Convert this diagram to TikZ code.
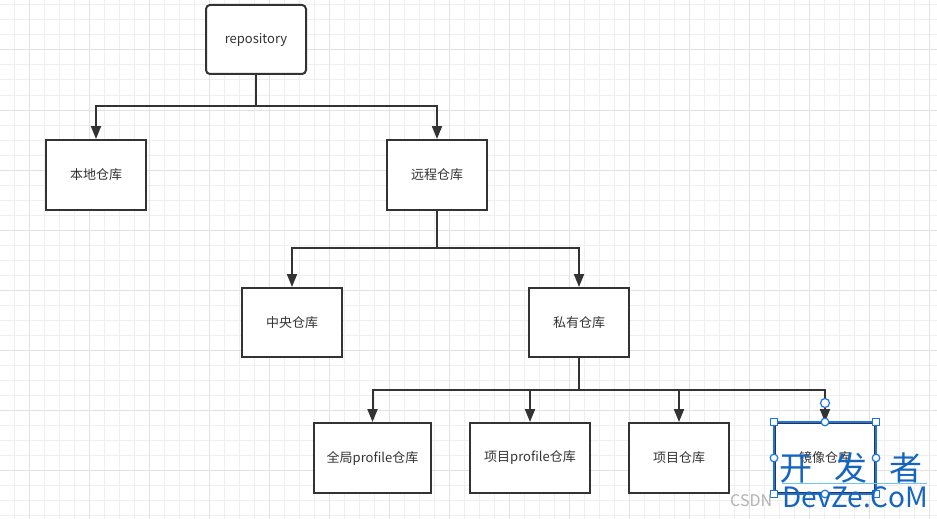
\documentclass[tikz,border=0pt]{standalone}
\usepackage{fontspec}
\setmainfont{Noto Sans CJK SC}
\usetikzlibrary{arrows.meta,calc}
\definecolor{ink}{HTML}{333333}
\definecolor{gridminor}{HTML}{EFEFEF}
\definecolor{gridmajor}{HTML}{E2E2E2}
\definecolor{selblue}{HTML}{1A73E8}
\definecolor{wmblue}{HTML}{1565C0}
\definecolor{wmline}{HTML}{6EC6F5}
\tikzset{
  box/.style={draw=ink, line width=2pt, fill=white, minimum width=100pt, minimum height=70pt,
    font=\fontsize{13}{15}\selectfont, text=ink, inner sep=0pt},
  conn/.style={draw=ink, line width=2pt},
  arr/.style={conn, -{Triangle[length=13pt,width=10pt]}},
  handle/.style={draw=selblue, fill=white, line width=1.2pt},
}
\begin{document}
\begin{tikzpicture}[x=1pt,y=-1pt]
\useasboundingbox (0,0) rectangle (937,519);
\fill[white] (0,0) rectangle (937,519);
% grid
\foreach \i in {0,...,62} { \draw[gridminor, line width=1pt] ({14.3+15*\i},0) -- ({14.3+15*\i},519); }
\foreach \j in {0,...,34} { \draw[gridminor, line width=1pt] (0,{5+15*\j}) -- (937,{5+15*\j}); }
\foreach \i in {0,...,15} { \draw[gridmajor, line width=1pt] ({29.3+60*\i},0) -- ({29.3+60*\i},519); }
\foreach \j in {0,...,8} { \draw[gridmajor, line width=1pt] (0,{50+60*\j}) -- (937,{50+60*\j}); }

% nodes
\node[box, rounded corners=4pt, minimum height=69pt] (repo) at (256,39.5) {\raisebox{-1pt}{repository}};
\node[box] (local) at (96,175) {本地仓库};
\node[box] (remote) at (437,175) {远程仓库};
\node[box, minimum height=69pt] (central) at (292,322.5) {中央仓库};
\node[box, minimum height=69pt] (private) at (579,322.5) {私有仓库};
\node[box, minimum width=117pt] (glob) at (372.5,458) {全局profile仓库};
\node[box, minimum width=120pt] (projp) at (530,458) {项目profile仓库};
\node[box] (proj) at (679,458) {项目仓库};
\node[box] (mirror) at (825,458) {\raisebox{2pt}{镜像仓库}};

% connectors
\coordinate (j1) at (256,106);
\coordinate (j2) at (437,248);
\coordinate (j3) at (579,390);
\draw[conn] (repo.south) -- (j1);
\draw[arr] (j1) -| (local.north);
\draw[arr] (j1) -| (remote.north);
\draw[conn] (remote.south) -- (j2);
\draw[arr] (j2) -| (central.north);
\draw[arr] (j2) -| (private.north);
\draw[conn] (private.south) -- (j3);
\draw[arr] (j3) -| (glob.north);
\draw[arr] (j3) -| (projp.north);
\draw[arr] (j3) -| (proj.north);
\draw[arr] (j3) -| (mirror.north);

% selection handles on mirror
\draw[selblue, line width=1.3pt] (mirror.north west) rectangle (mirror.south east);
\coordinate (rot) at (825,403);
\draw[handle] (rot) circle (4.5pt);
\foreach \a in {north west, north east, south west, south east} {
  \draw[handle] ($(mirror.\a)+(-3.5,-3.5)$) rectangle ($(mirror.\a)+(3.5,3.5)$);
}
\foreach \a in {north, south, east, west} {
  \draw[handle] (mirror.\a) circle (3.8pt);
}

% watermark
\node[text=gray!60, font=\fontsize{16}{18}\selectfont, anchor=west, inner sep=0pt] (csdn) at (730,501) {CSDN};
\node[text=wmblue, font=\fontsize{33}{36}\selectfont, inner sep=0pt, anchor=west] (wm1) at (779,468) {开\hspace{22pt}发\hspace{22pt}者};
\draw[wmline, line width=0.8pt] (782,483.5) -- (927,483.5);
\node[text=wmblue, font=\fontsize{28}{30}\selectfont, inner sep=0pt, anchor=west] (wm2) at (782,497.5) {DevZe.CoM};
\end{tikzpicture}
\end{document}
